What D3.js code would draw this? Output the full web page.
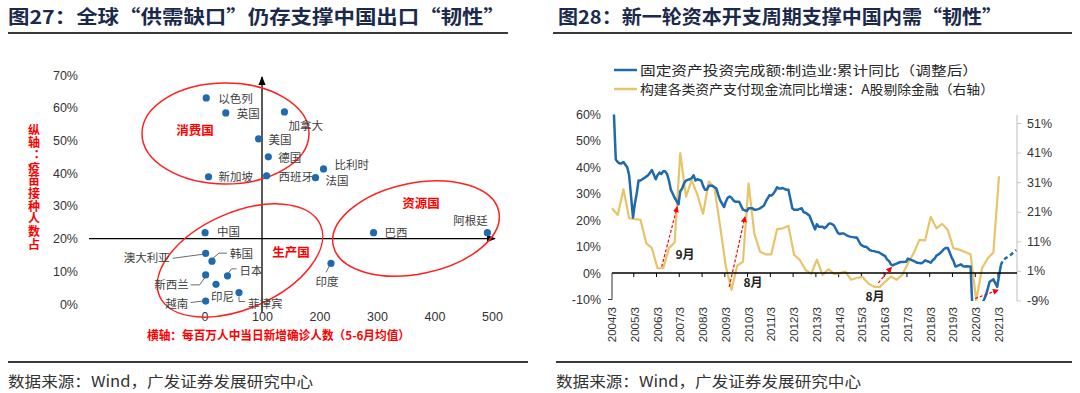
<!DOCTYPE html>
<html><head><meta charset="utf-8">
<script src="https://cdn.jsdelivr.net/npm/d3@7"></script>
<style>
body{margin:0;background:#fff;}
svg{display:block;}
text{font-family:"Liberation Sans",Arial,sans-serif;}
.cjk{font-family:"Noto Sans CJK SC","Noto Sans",sans-serif;}
</style></head><body>
<svg id="c" width="1080" height="393"></svg>
<script>
// ---------------- DATA: left scatter ----------------
const leftTitle = "图27：全球“供需缺口”仍存支撑中国出口“韧性”";
const rightTitle = "图28：新一轮资本开支周期支撑中国内需“韧性”";
const sourceText = "数据来源：Wind，广发证券发展研究中心";
const countries = ["以色列","英国","美国","加拿大","德国","西班牙","比利时","法国","新加坡","中国","澳大利亚","韩国","日本","新西兰","印尼","菲律宾","越南","印度","巴西","阿根廷"];
const newCasesPerMillion = [3,37,94,139,111,108,207,193,7,1,2,13,40,2,20,60,2,220,294,492];
const vaccinatedShare = [0.63,0.584,0.505,0.587,0.45,0.392,0.413,0.386,0.389,0.218,0.155,0.131,0.086,0.089,0.060,0.035,0.009,0.124,0.218,0.218];
const scatterXTicks = [0,100,200,300,400,500];
const scatterYTicks = [0,0.1,0.2,0.3,0.4,0.5,0.6,0.7];
const groupNames = ["消费国","生产国","资源国"];
const yAxisTitle = "纵轴：疫苗接种人数占";
const xAxisTitle = "横轴：每百万人中当日新增确诊人数（5-6月均值）";

// ---------------- DATA: right line chart ----------------
const legendLabels = ["固定资产投资完成额:制造业:累计同比（调整后）","构建各类资产支付现金流同比增速：A股剔除金融（右轴）"];
const blueDates = ["2004-04","2004-05","2004-06","2004-07","2004-08","2004-09","2004-10","2004-11","2004-12",
"2005-02","2005-03","2005-04","2005-05","2005-06","2005-07","2005-08","2005-09","2005-10","2005-11","2005-12",
"2006-02","2006-03","2006-04","2006-05","2006-06","2006-07","2006-08","2006-09","2006-10","2006-11","2006-12",
"2007-02","2007-03","2007-04","2007-05","2007-06","2007-07","2007-08","2007-09","2007-10","2007-11","2007-12",
"2008-02","2008-03","2008-04","2008-05","2008-06","2008-07","2008-08","2008-09","2008-10","2008-11","2008-12",
"2009-02","2009-03","2009-04","2009-05","2009-06","2009-07","2009-08","2009-09","2009-10","2009-11","2009-12",
"2010-02","2010-03","2010-04","2010-05","2010-06","2010-07","2010-08","2010-09","2010-10","2010-11","2010-12",
"2011-02","2011-03","2011-04","2011-05","2011-06","2011-07","2011-08","2011-09","2011-10","2011-11","2011-12",
"2012-02","2012-03","2012-04","2012-05","2012-06","2012-07","2012-08","2012-09","2012-10","2012-11","2012-12",
"2013-02","2013-03","2013-04","2013-05","2013-06","2013-07","2013-08","2013-09","2013-10","2013-11","2013-12",
"2014-02","2014-03","2014-04","2014-05","2014-06","2014-07","2014-08","2014-09","2014-10","2014-11","2014-12",
"2015-02","2015-03","2015-04","2015-05","2015-06","2015-07","2015-08","2015-09","2015-10","2015-11","2015-12",
"2016-02","2016-03","2016-04","2016-05","2016-06","2016-07","2016-08","2016-09","2016-10","2016-11","2016-12",
"2017-02","2017-03","2017-04","2017-05","2017-06","2017-07","2017-08","2017-09","2017-10","2017-11","2017-12",
"2018-02","2018-03","2018-04","2018-05","2018-06","2018-07","2018-08","2018-09","2018-10","2018-11","2018-12",
"2019-02","2019-03","2019-04","2019-05","2019-06","2019-07","2019-08","2019-09","2019-10","2019-11","2019-12",
"2020-02","2020-03","2020-04","2020-05","2020-06","2020-07","2020-08","2020-09","2020-10","2020-11","2020-12",
"2021-02","2021-03","2021-04"];
const blueValues = [60,43,42,41.5,41.5,42,41,40,37,
21,26,30,35,35,35.5,36,36.5,37,38,39,
35.5,37,38,37.5,38.5,38.5,37.5,35,31.5,30,28.5,
26,31,32,34,35,35.3,35.5,36,37,35,35.5,
35,33,31.5,31.5,33,33,33,32.5,32,29.5,27.5,
25,27,28.5,29,28.5,27.5,27,27,27,25.5,24,
23.5,24.5,24.5,24.5,24,24,24.2,24.5,25,25.5,27,
29.5,29.3,30,31,32.5,32,32,32.2,31.8,31.5,31.5,
24.5,24,24,24,24.3,24.5,23,22.8,22.3,21.8,20,
16.5,18.5,17.5,17.5,17.5,17,17.5,18.5,18.8,18.5,18,
15.2,14.8,15,15,14.6,14.2,13.9,13.7,13.6,13.5,13.5,
10.8,10.4,10,10,9.3,8.7,8.4,8.3,8.1,8,7.7,
6.8,6.4,5.1,4.6,3.3,2.9,3.3,3.6,3.9,4.2,4.2,
4.3,5.5,5.2,4.9,4.6,4.2,3.9,3.8,3.7,4.1,4.8,
4.3,3.9,4.8,5.4,6.6,7,7.6,8.3,9.1,9.5,9.5,
5.9,4.6,2.5,2.7,3,3.3,2.6,2.5,2.6,2.5,2.5,
-31.5,-25.2,-18.8,-14.8,-11.7,-10.2,-8.5,-6,-3.3,-2.8,-2.4,
-5.2,-1,3];
const blueForecastDates = ["2021-04","2021-05","2021-09","2021-12"];
const blueForecastValues = [3,4.9,6.8,8.7];
const goldDates = ["2004-03","2004-06","2004-09","2004-12","2005-03","2005-06","2005-09","2005-12",
"2006-03","2006-06","2006-09","2006-12","2007-03","2007-06","2007-09","2007-12",
"2008-03","2008-06","2008-09","2008-12","2009-03","2009-06","2009-09","2009-12",
"2010-03","2010-06","2010-09","2010-12","2011-03","2011-06","2011-09","2011-12",
"2012-03","2012-06","2012-09","2012-12","2013-03","2013-06","2013-09","2013-12",
"2014-03","2014-06","2014-09","2014-12","2015-03","2015-06","2015-09","2015-12",
"2016-03","2016-06","2016-09","2016-12","2017-03","2017-06","2017-09","2017-12",
"2018-03","2018-06","2018-09","2018-12","2019-03","2019-06","2019-09","2019-12",
"2020-03","2020-06","2020-09","2020-12","2021-03"];
const goldValues = [22.2,19.9,28.6,18.8,18.5,18.3,10.4,8.7,
1.9,1.9,8.7,10.6,40.8,26.1,31.7,26.7,
20.3,31.2,28.9,16,2.5,-5.4,2.8,4.1,
30.6,13.7,7.5,6.6,6.6,15.1,15.4,16.2,
6.4,4.7,1.3,0,4.8,-0.4,1.6,0,
0.2,0.8,-2,-1.4,-1,-3.2,-4.3,-4.5,
-2.6,-0.9,-2,-0.3,3.6,7,11.5,11.3,
19.3,15.4,16.9,14.8,8.6,8.2,7.4,6.6,
-9,1.9,5.3,7.2,33];
const yearLabels = ["2004/3","2005/3","2006/3","2007/3","2008/3","2009/3","2010/3","2011/3","2012/3","2013/3","2014/3","2015/3","2016/3","2017/3","2018/3","2019/3","2020/3","2021/3"];
const leftAxisTicks = [-10,0,10,20,30,40,50,60];
const rightAxisTicks = [-9,1,11,21,31,41,51];
// annotation arrows (date, left-axis value)
const arrowFromDates = ["2006-05-07","2009-04-25","2015-11-12","2020-02-12"];
const arrowFromValues = [2.4,-5.2,-3.7,-9.6];
const arrowToDates = ["2007-01-12","2010-01-03","2016-06-12","2021-02-18"];
const arrowToValues = [25.1,21.3,2.2,-6.4];
const noteTexts = ["9月","8月","8月"];
const noteDates = ["2007-05-15","2010-05-10","2015-09-20"];
const noteValues = [6.8,-3.8,-9.1];

// ---------------- DRAW ----------------
const svg = d3.select("#c");
const titleColor = "#1b2a4a";
const parseM = d3.timeParse("%Y-%m");
const parseD = d3.timeParse("%Y-%m-%d");

// Titles and rules
[[leftTitle, 8, 497, 8, 508],[rightTitle, 558, 444, 553, 1072]].forEach(([t,x,w,l1,l2])=>{
  svg.append("text").attr("class","cjk").attr("x",x).attr("y",24).attr("font-size",19).attr("font-weight","bold")
    .attr("fill",titleColor).attr("textLength",w).attr("lengthAdjust","spacingAndGlyphs").text(t);
  svg.append("line").attr("x1",l1).attr("x2",l2).attr("y1",33).attr("y2",33).attr("stroke","#3a3a3a").attr("stroke-width",2);
});
// Source
[[8,528],[556,1072]].forEach(([x1,x2])=>{
  svg.append("line").attr("x1",x1).attr("x2",x2).attr("y1",362).attr("y2",362).attr("stroke","#3a3a3a").attr("stroke-width",2);
  svg.append("text").attr("class","cjk").attr("x",x1).attr("y",387).attr("font-size",15).attr("fill","#333")
    .attr("textLength",305).attr("lengthAdjust","spacingAndGlyphs").text(sourceText);
});

// ======== LEFT SCATTER ========
const xS = d3.scaleLinear().domain([0,500]).range([204.5,492]);
const yS = d3.scaleLinear().domain([0,0.7]).range([304,75]);
const gL = svg.append("g");

const ax = gL.append("g").attr("transform","translate(81,0)")
  .call(d3.axisLeft(yS).tickValues(scatterYTicks).tickFormat(d3.format(".0%")).tickSize(0).tickPadding(3));
ax.select(".domain").remove();
ax.selectAll("text").attr("font-size",12.5).attr("fill","#333").attr("font-family","Liberation Sans, Arial");
const bx = gL.append("g").attr("transform","translate(0,312)")
  .call(d3.axisBottom(xS).tickValues(scatterXTicks).tickSize(0).tickPadding(0));
bx.select(".domain").remove();
bx.selectAll("text").attr("font-size",12.5).attr("fill","#333").attr("font-family","Liberation Sans, Arial");

// arrow marker
const defs = svg.append("defs");
defs.append("marker").attr("id","blk").attr("viewBox","0 0 10 10").attr("refX",9).attr("refY",5)
  .attr("markerWidth",7).attr("markerHeight",7).attr("orient","auto-start-reverse")
  .append("path").attr("d","M0,1L10,5L0,9z").attr("fill","#000");
defs.append("marker").attr("id","red").attr("viewBox","0 0 10 10").attr("refX",9).attr("refY",5)
  .attr("markerWidth",5).attr("markerHeight",5).attr("orient","auto")
  .append("path").attr("d","M0,0L10,5L0,10z").attr("fill","#ff0000");

// crosshair axes
gL.append("line").attr("x1",89).attr("x2",xS(500)+3).attr("y1",yS(0.2)).attr("y2",yS(0.2))
  .attr("stroke","#000").attr("stroke-width",1.3).attr("marker-end","url(#blk)");
gL.append("line").attr("x1",xS(100)).attr("x2",xS(100)).attr("y1",312).attr("y2",77)
  .attr("stroke","#000").attr("stroke-width",1.3).attr("marker-end","url(#blk)");

// ellipses
const ellipses = [
  {cx:225.5, cy:133.5, rx:83.5, ry:50.5, rot:0},
  {cx:240, cy:260.5, rx:88, ry:48, rot:-24},
  {cx:416, cy:228.5, rx:84.5, ry:45.5, rot:-11.5}
];
ellipses.forEach(e=>{
  gL.append("ellipse").attr("cx",0).attr("cy",0).attr("rx",e.rx).attr("ry",e.ry)
    .attr("transform",`translate(${e.cx},${e.cy}) rotate(${e.rot})`)
    .attr("fill","none").attr("stroke","#ff2020").attr("stroke-width",1.5);
});
const groupLabelPos = [[195,131],[291,253],[421,204]];
groupNames.forEach((n,i)=>{
  gL.append("text").attr("class","cjk").attr("x",groupLabelPos[i][0]).attr("y",groupLabelPos[i][1])
    .attr("dy","0.35em").attr("text-anchor","middle").attr("font-size",12.5).attr("font-weight","bold")
    .attr("fill","#ff0000").text(n);
});

// label layout (offsets from point, in px)
const labelLayout = {
  "以色列":{dx:12,dy:1,a:"start"}, "英国":{dx:11,dy:1,a:"start"}, "美国":{dx:10,dy:1,a:"start"},
  "加拿大":{dx:4,dy:14,a:"start"}, "德国":{dx:10,dy:1,a:"start"}, "西班牙":{dx:12,dy:1,a:"start"},
  "比利时":{dx:11,dy:-3.5,a:"start"}, "法国":{dx:10,dy:3,a:"start"}, "新加坡":{dx:10,dy:0,a:"start"},
  "中国":{dx:12,dy:-1,a:"start"},
  "澳大利亚":{dx:-36,dy:4.5,a:"end",lead:[[-33,5],[-3,1]]},
  "韩国":{dx:18,dy:-7.5,a:"start",lead:[[1,-3],[7,-8],[15,-8]]},
  "日本":{dx:12,dy:-4.5,a:"start",lead:[[1,-3],[4,-7],[9,-7]]},
  "新西兰":{dx:-17,dy:10,a:"end",lead:[[-15,10],[-6,10],[-1,3]]},
  "印尼":{dx:-5,dy:12.5,a:"start"},
  "菲律宾":{dx:9,dy:11,a:"start",lead:[[0,4],[0,9],[6,9]]},
  "越南":{dx:-17.5,dy:2.5,a:"end",lead:[[-15,1.5],[-3,0]]},
  "印度":{dx:-4,dy:19,a:"middle",lead:[[-2,3],[-5,9]]},
  "巴西":{dx:11,dy:0,a:"start"},
  "阿根廷":{dx:-17,dy:-12,a:"middle"}
};
countries.forEach((c,i)=>{
  const px = xS(newCasesPerMillion[i]), py = yS(vaccinatedShare[i]);
  const L = labelLayout[c];
  if(L.lead){
    gL.append("path").attr("d", d3.line()(L.lead.map(p=>[px+p[0],py+p[1]])))
      .attr("fill","none").attr("stroke","#595959").attr("stroke-width",0.9);
  }
  gL.append("circle").attr("cx",px).attr("cy",py).attr("r",3.6).attr("fill","#1f69ad");
  gL.append("text").attr("class","cjk").attr("x",px+L.dx).attr("y",py+L.dy).attr("dy","0.35em")
    .attr("text-anchor",L.a).attr("font-size",11.5).attr("fill","#404040").text(c);
});

// axis titles
gL.append("text").attr("class","cjk").attr("x",34).attr("y",124)
  .attr("style","writing-mode: vertical-rl; text-orientation: upright;")
  .attr("font-size",12).attr("font-weight","bold").attr("fill","#ff0000")
  .attr("letter-spacing",0.7).text(yAxisTitle);
gL.append("text").attr("class","cjk").attr("x",147).attr("y",336).attr("dy","0.35em")
  .attr("font-size",12).attr("font-weight","bold").attr("fill","#ff0000")
  .attr("textLength",263).attr("lengthAdjust","spacingAndGlyphs").text(xAxisTitle);

// ======== RIGHT LINE CHART ========
const xT = d3.scaleTime().domain([parseM("2004-03"),parseM("2021-03")]).range([612,999]);
const yLs = d3.scaleLinear().domain([-10,60]).range([299.5,114.5]);
const yRs = d3.scaleLinear().domain([-9,51]).range([300.5,123]);
const gR = svg.append("g");
const blue = "#1f69ad", gold = "#e6c46a";

// legend
[[blue,70],[gold,89]].forEach(([col,y],i)=>{
  gR.append("line").attr("x1",614).attr("x2",637).attr("y1",y).attr("y2",y).attr("stroke",col).attr("stroke-width",2.5);
  gR.append("text").attr("class","cjk").attr("x",640).attr("y",y).attr("dy","0.35em").attr("font-size",13)
    .attr("fill","#262626").attr("textLength", i===0?338:354).attr("lengthAdjust","spacingAndGlyphs").text(legendLabels[i]);
});

// left axis labels
const la = gR.append("g").attr("transform","translate(604,0)")
  .call(d3.axisLeft(yLs).tickValues(leftAxisTicks).tickFormat(d=>d+"%").tickSize(0).tickPadding(3));
la.select(".domain").remove();
la.selectAll("text").attr("font-size",12.5).attr("fill","#333").attr("font-family","Liberation Sans, Arial");
gR.append("path").attr("d",`M608,${yLs(-10)}H612V${yLs(0)}`).attr("fill","none").attr("stroke","#333").attr("stroke-width",1);

// right axis
gR.append("line").attr("x1",1017).attr("x2",1017).attr("y1",115).attr("y2",301).attr("stroke","#c8c8c8").attr("stroke-width",1.2);
const ra = gR.append("g").attr("transform","translate(1017,0)")
  .call(d3.axisRight(yRs).tickValues(rightAxisTicks).tickFormat(d=>d+"%").tickSize(4).tickPadding(6));
ra.select(".domain").remove();
ra.selectAll("line").attr("stroke","#c8c8c8");
ra.selectAll("text").attr("font-size",12.5).attr("fill","#333").attr("font-family","Liberation Sans, Arial");

// x labels rotated
yearLabels.forEach(l=>{
  const d = d3.timeParse("%Y/%m")(l);
  const x = xT(d);
  gR.append("text").attr("transform",`translate(${x+4},307) rotate(-90)`).attr("text-anchor","end")
    .attr("font-size",11.5).attr("fill","#333").text(l);
  if(l!=="2004/3") gR.append("line").attr("x1",x-1).attr("x2",x-1).attr("y1",yLs(0)).attr("y2",yLs(0)+4).attr("stroke","#000").attr("stroke-width",1);
});

// clip
defs.append("clipPath").attr("id","clipR").append("rect").attr("x",605).attr("y",108).attr("width",420).attr("height",193);
const plot = gR.append("g").attr("clip-path","url(#clipR)");

// zero line
gR.append("line").attr("x1",612).attr("x2",1017).attr("y1",yLs(0)).attr("y2",yLs(0)).attr("stroke","#000").attr("stroke-width",1.5);

// gold series (right axis)
plot.append("path").datum(goldDates.map((d,i)=>[parseM(d),goldValues[i]]))
  .attr("d", d3.line().x(d=>xT(d[0])).y(d=>yRs(d[1])))
  .attr("fill","none").attr("stroke",gold).attr("stroke-width",2.2).attr("stroke-linejoin","round");
// blue series (left axis)
plot.append("path").datum(blueDates.map((d,i)=>[parseM(d),blueValues[i]]))
  .attr("d", d3.line().x(d=>xT(d[0])).y(d=>yLs(d[1])))
  .attr("fill","none").attr("stroke",blue).attr("stroke-width",2.5).attr("stroke-linejoin","round");
plot.append("path").datum(blueForecastDates.map((d,i)=>[parseM(d),blueForecastValues[i]]))
  .attr("d", d3.line().x(d=>xT(d[0])).y(d=>yLs(d[1])))
  .attr("fill","none").attr("stroke",blue).attr("stroke-width",2.5).attr("stroke-dasharray","4,3");

// arrows
arrowFromDates.forEach((d,i)=>{
  gR.append("line").attr("x1",xT(parseD(d))).attr("y1",yLs(arrowFromValues[i]))
    .attr("x2",xT(parseD(arrowToDates[i]))).attr("y2",yLs(arrowToValues[i]))
    .attr("stroke","#ff0000").attr("stroke-width",1.2).attr("stroke-dasharray","3,2").attr("marker-end","url(#red)");
});
noteTexts.forEach((t,i)=>{
  gR.append("text").attr("class","cjk").attr("x",xT(parseD(noteDates[i]))).attr("y",yLs(noteValues[i]))
    .attr("dy","0.35em").attr("text-anchor","middle").attr("font-size",12).attr("font-weight","bold").attr("fill","#222").text(t);
});
</script>
</body></html>
